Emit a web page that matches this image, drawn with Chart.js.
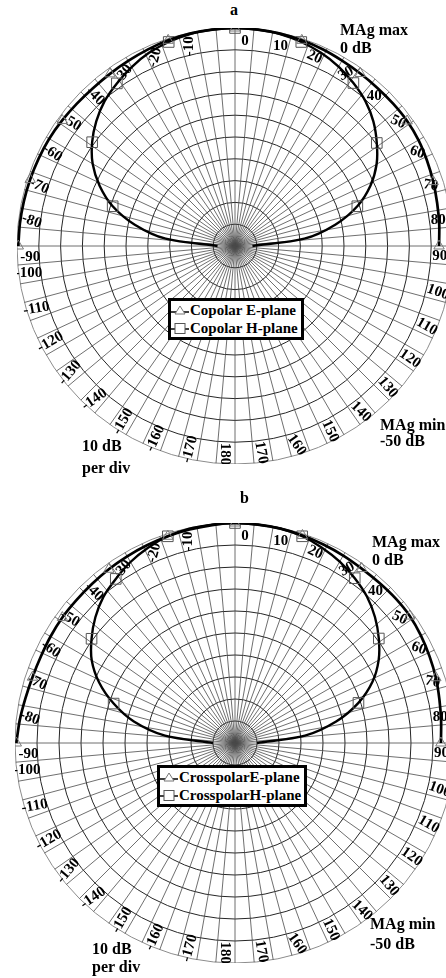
<!DOCTYPE html>
<html>
<head>
<meta charset="utf-8">
<script src="https://cdn.jsdelivr.net/npm/chart.js@4.4.1/dist/chart.umd.min.js"></script>
<style>
  html, body { margin: 0; padding: 0; background: #fff; }
  #page { position: relative; width: 446px; height: 978px; overflow: hidden; background: #fff;
          font-family: "Liberation Serif", "Times New Roman", serif; font-weight: bold; color: #000; }
  canvas { position: absolute; }
  .note { position: absolute; font-size: 16px; white-space: nowrap; }
  .legend { position: absolute; border: 3px solid #000; background: #fff; font-size: 15px;
            line-height: 18px; padding: 0 3px 0 0; white-space: nowrap; }
  .legend svg { vertical-align: -2px; margin-right: 1px; }
</style>
</head>
<body>
<div id="page">
  <div class="note" style="left:230px;top:2px;line-height:16px">a</div>
  <canvas id="chartA" width="436" height="436" style="left:17px;top:28px"></canvas>
  <div class="note" style="left:340px;top:21px;line-height:18px">MAg max<br>0 dB</div>
  <div class="note" style="left:380px;top:417px;line-height:16px">MAg min<br>-50 dB</div>
  <div class="note" style="left:82px;top:435px;line-height:22px">10 dB<br>per div</div>
  <div class="legend" id="legendA" style="left:168px;top:298px"></div>

  <div class="note" style="left:240px;top:490px;line-height:16px">b</div>
  <canvas id="chartB" width="440" height="440" style="left:15px;top:523px"></canvas>
  <div class="note" style="left:372px;top:533px;line-height:18px">MAg max<br>0 dB</div>
  <div class="note" style="left:370px;top:914px;line-height:20px">MAg min<br>-50 dB</div>
  <div class="note" style="left:92px;top:940px;line-height:18px">10 dB<br>per div</div>
  <div class="legend" id="legendB" style="left:157px;top:765px"></div>
</div>
<script>
// Sample angles (degrees, 0 = boresight, clockwise positive)
const angles = [-90, -84, -78, -72, -66, -60, -54, -48, -42, -36, -30, -24, -18, -12, -6,
                0, 6, 12, 18, 24, 30, 36, 42, 48, 54, 60, 66, 72, 78, 84, 90];

// (a) copolar patterns, dB
const copolarE = [-0.3, -0.4, -0.5, -0.6, -0.7, -0.8, -1.0, -1.2, -1.3, -1.2, -1.0, -0.7, -0.4, -0.2, -0.1,
                  0, -0.1, -0.2, -0.4, -0.6, -0.9, -1.1, -1.2, -1.2, -1.2, -1.4, -1.8, -2.2, -2.6, -2.9, -3.2];
const copolarH = [-46, -34, -26.5, -20.5, -16, -12.3, -9.5, -7.2, -5.3, -3.9, -2.6, -1.5, -0.8, -0.3, -0.1,
                  0, -0.1, -0.3, -0.8, -1.5, -2.5, -3.8, -5.3, -7.3, -9.8, -12.5, -16, -20.5, -26.5, -34, -46];

// (b) crosspolar patterns, dB
const crossE = [-0.3, -0.8, -1.3, -1.6, -1.7, -1.6, -1.5, -1.5, -1.4, -1.2, -1.0, -0.8, -0.6, -0.4, -0.2,
                0, -0.1, -0.2, -0.4, -0.6, -0.8, -1.0, -1.0, -0.9, -0.9, -1.2, -1.6, -2.0, -2.5, -2.9, -3.2];
const crossH = [-45, -34, -26.5, -21, -16.2, -12.4, -9.7, -7.3, -5.3, -3.9, -2.5, -1.4, -0.6, -0.2, -0.1,
                0, -0.1, -0.2, -0.6, -1.4, -2.4, -3.7, -5.2, -7.2, -9.6, -12.3, -15.8, -20.5, -26.5, -34, -45];

// Angle tick labels printed round the rim
const angleTicks = [0, 10, 20, 30, 40, 50, 60, 70, 80, 90, 100, 110, 120, 130, 140, 150, 160, 170, 180,
                    -170, -160, -150, -140, -130, -120, -110, -100, -90, -80, -70, -60, -50, -40, -30, -20, -10];
// Tilt of each rim label (degrees, clockwise), same order as angleTicks
const tickTilt = [0, 0, 25, -30, 0, 25, 20, 10, 0, 0, 20, 30, 35, 50, 45, 65, 55, 80, 90,
                  -75, -65, -60, -35, -50, -30, -10, 0, 0, 20, 25, 35, 30, 45, -50, -75, -90];

const dbMin = -50, dbMax = 0, dbStep = 5;
const markerEvery = 18;

// One category per degree; index 0 sits at the bottom (startAngle 180)
const degreeLabels = Array.from({length: 360}, (_, i) => String(i - 180));
const angleAt = i => i - 180;

function toSeries(values) {
  const out = new Array(360).fill(null);
  angles.forEach((a, k) => { out[a + 180] = values[k]; });
  return out;
}

// Keep the pattern traces open (front hemisphere only)
const openTrace = {
  id: 'openTrace',
  afterDatasetsUpdate(chart) {
    chart.getSortedVisibleDatasetMetas().forEach(meta => {
      const line = meta.dataset;
      if (!line) return;
      line._loop = false;
      delete line._segments;
      delete line._path;
      line._pointsUpdated = false;
    });
  }
};

// Rotated angle numbers just inside the rim
const rimLabels = {
  id: 'rimLabels',
  beforeDatasetsDraw(chart) {
    const scale = chart.scales.r;
    const ctx = chart.ctx;
    ctx.save();
    ctx.font = 'bold 15px "Liberation Serif", "Times New Roman", serif';
    ctx.fillStyle = '#000';
    ctx.textAlign = 'center';
    ctx.textBaseline = 'middle';
    angleTicks.forEach((a, k) => {
      let off;
      if (a >= 0) { off = 2.8; }
      else if (a >= -90) { off = -3; }
      else { off = 2.5; }
      const k2 = Math.abs(a) <= 90 ? 0.94 : 0.955;
      const idx = ((a + off) + 180 + 720) % 360;
      const p = scale.getPointPosition(idx, scale.drawingArea * k2);
      ctx.save();
      ctx.translate(p.x, p.y);
      ctx.rotate(tickTilt[k] * Math.PI / 180);
      ctx.fillText(String(a), 0, 0);
      ctx.restore();
    });
    ctx.restore();
  }
};

function markerRadius(r, maxAngle) {
  return ctx => {
    const a = angleAt(ctx.dataIndex);
    return (a % markerEvery === 0 && Math.abs(a) <= maxAngle) ? r : 0;
  };
}

function makeChart(id, names, eVals, hVals) {
  return new Chart(document.getElementById(id), {
    type: 'radar',
    data: {
      labels: degreeLabels,
      datasets: [
        {
          label: names[0], data: toSeries(eVals),
          borderColor: '#000', borderWidth: 2.7, backgroundColor: 'rgba(0,0,0,0)', fill: false,
          spanGaps: true, tension: 0.3,
          pointStyle: 'triangle', pointRadius: markerRadius(6, 90), pointHoverRadius: 0,
          pointBorderColor: '#7a7a7a', pointBackgroundColor: 'rgba(0,0,0,0)', pointBorderWidth: 1
        },
        {
          label: names[1], data: toSeries(hVals),
          borderColor: '#000', borderWidth: 2.4, backgroundColor: 'rgba(0,0,0,0)', fill: false,
          spanGaps: true, tension: 0.3,
          pointStyle: 'rect', pointRadius: markerRadius(7.5, 80), pointHoverRadius: 0,
          pointBorderColor: '#555', pointBackgroundColor: 'rgba(0,0,0,0)', pointBorderWidth: 1
        }
      ]
    },
    options: {
      responsive: false,
      animation: false,
      events: [],
      layout: { padding: 0 },
      plugins: { legend: { display: false }, tooltip: { enabled: false } },
      scales: {
        r: {
          min: dbMin, max: dbMax, startAngle: 180,
          ticks: { display: false, stepSize: dbStep },
          pointLabels: { display: false },
          grid: { circular: true, lineWidth: 1,
                  color: c => (c.tick && c.tick.value === dbMax ? '#8c8c8c' : '#262626') },
          angleLines: { display: true, color: '#4a4a4a',
                        lineWidth: c => (c.index % 5 === 0 ? 0.8 : 0) }
        }
      }
    },
    plugins: [openTrace, rimLabels]
  });
}

function legendHtml(names) {
  const tri = '<svg width="18" height="13"><line x1="0" y1="8" x2="18" y2="8" stroke="#000" stroke-width="1.5"/>' +
              '<polygon points="9,2 14,10 4,10" fill="#fff" stroke="#777" stroke-width="1"/></svg>';
  const sq = '<svg width="18" height="13"><line x1="0" y1="7" x2="18" y2="7" stroke="#000" stroke-width="1.5"/>' +
             '<rect x="4" y="1.5" width="10" height="10" fill="#fff" stroke="#555" stroke-width="1"/></svg>';
  return '<div>' + tri + names[0] + '</div><div>' + sq + names[1] + '</div>';
}

const namesA = ['Copolar E-plane', 'Copolar H-plane'];
const namesB = ['CrosspolarE-plane', 'CrosspolarH-plane'];
makeChart('chartA', namesA, copolarE, copolarH);
makeChart('chartB', namesB, crossE, crossH);
document.getElementById('legendA').innerHTML = legendHtml(namesA);
document.getElementById('legendB').innerHTML = legendHtml(namesB);
</script>
</body>
</html>
